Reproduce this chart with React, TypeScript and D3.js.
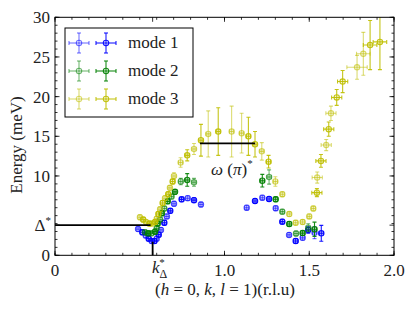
import React from 'react';
import * as d3 from 'd3';

// [k, E, dk, dE, scan]  scan 0 = faint set, 1 = solid set
type Pt = [number, number, number, number, number];

const mode1: Pt[] = [
  [0.49, 3.3, 0.012, 0.3, 0], [0.515, 2.9, 0.012, 0.3, 1], [0.535, 2.5, 0.012, 0.3, 0],
  [0.553, 2.1, 0.012, 0.3, 1], [0.57, 1.8, 0.012, 0.3, 0], [0.587, 1.8, 0.012, 0.3, 1],
  [0.6, 2.1, 0.012, 0.3, 0], [0.612, 2.6, 0.012, 0.3, 1], [0.625, 3.2, 0.012, 0.3, 0],
  [0.645, 4.1, 0.012, 0.3, 1], [0.66, 4.9, 0.012, 0.3, 0], [0.68, 5.6, 0.012, 0.3, 1],
  [0.702, 6.5, 0.012, 0.3, 0], [0.747, 7.05, 0.012, 0.3, 1], [0.783, 7.2, 0.012, 0.3, 0],
  [0.82, 6.95, 0.012, 0.3, 1], [0.861, 6.4, 0.012, 0.3, 0],
  [1.131, 6.0, 0.012, 0.3, 0], [1.18, 6.85, 0.012, 0.3, 1], [1.223, 7.26, 0.012, 0.3, 0],
  [1.263, 7.1, 0.012, 0.3, 1], [1.302, 5.93, 0.012, 0.3, 0], [1.341, 4.24, 0.012, 0.3, 1],
  [1.381, 2.57, 0.012, 0.3, 0], [1.42, 1.8, 0.012, 0.3, 1], [1.461, 2.2, 0.012, 0.3, 0],
  [1.494, 3.2, 0.012, 0.4, 1], [1.531, 2.85, 0.012, 0.75, 0], [1.571, 2.77, 0.012, 1.0, 1],
];

const mode2: Pt[] = [
  [0.531, 2.9, 0.012, 0.3, 0], [0.55, 2.77, 0.012, 0.3, 1], [0.57, 2.77, 0.012, 0.3, 0],
  [0.59, 2.98, 0.012, 0.3, 1], [0.6, 3.4, 0.012, 0.3, 0], [0.606, 4.0, 0.012, 0.3, 1],
  [0.62, 4.5, 0.012, 0.3, 0], [0.63, 5.3, 0.012, 0.3, 1], [0.645, 5.9, 0.012, 0.3, 0],
  [0.665, 6.8, 0.012, 0.3, 1], [0.688, 7.4, 0.012, 0.3, 0], [0.708, 8.0, 0.012, 0.3, 1],
  [0.742, 9.3, 0.012, 0.4, 0], [0.78, 9.5, 0.012, 0.8, 1], [0.82, 9.2, 0.012, 0.5, 0],
  [1.223, 9.4, 0.012, 0.8, 1], [1.263, 9.87, 0.012, 0.9, 0], [1.302, 7.06, 0.012, 0.3, 1],
  [1.341, 5.5, 0.012, 0.3, 0], [1.382, 3.95, 0.012, 0.3, 1], [1.422, 2.75, 0.012, 0.3, 0],
  [1.461, 2.8, 0.012, 0.3, 1], [1.494, 3.48, 0.012, 0.5, 0], [1.531, 3.28, 0.012, 0.9, 1],
];

const mode3: Pt[] = [
  [0.501, 4.8, 0.012, 0.3, 0], [0.52, 4.5, 0.012, 0.3, 1], [0.537, 4.2, 0.012, 0.3, 0],
  [0.557, 4.0, 0.012, 0.3, 1], [0.575, 4.0, 0.012, 0.3, 0], [0.59, 4.2, 0.012, 0.3, 1],
  [0.6, 4.6, 0.012, 0.3, 0], [0.61, 5.2, 0.012, 0.3, 1], [0.62, 5.8, 0.012, 0.3, 0],
  [0.635, 6.6, 0.012, 0.3, 1], [0.649, 7.2, 0.012, 0.3, 0], [0.668, 7.7, 0.012, 0.3, 1],
  [0.678, 8.5, 0.012, 0.3, 0], [0.694, 9.3, 0.012, 0.3, 1], [0.702, 10.0, 0.012, 0.4, 0],
  [0.741, 11.7, 0.012, 0.6, 0], [0.78, 12.6, 0.012, 0.7, 1], [0.82, 13.4, 0.012, 0.7, 0],
  [0.861, 14.5, 0.012, 2.0, 1], [0.904, 15.3, 0.012, 2.9, 0], [0.963, 15.6, 0.012, 3.0, 1],
  [1.042, 15.6, 0.012, 3.2, 0], [1.101, 15.4, 0.012, 2.5, 0], [1.141, 15.0, 0.012, 2.4, 1],
  [1.18, 14.0, 0.012, 1.6, 1], [1.22, 13.1, 0.012, 1.1, 0], [1.26, 11.8, 0.012, 0.8, 1],
  [1.3, 9.3, 0.012, 0.6, 0], [1.341, 7.7, 0.012, 0.3, 0], [1.382, 5.2, 0.012, 0.3, 0],
  [1.42, 4.1, 0.012, 0.3, 0], [1.461, 4.2, 0.012, 0.3, 0], [1.5, 4.9, 0.012, 0.3, 0],
  [1.524, 5.9, 0.012, 0.3, 0], [1.545, 7.9, 0.03, 0.5, 1], [1.547, 9.8, 0.03, 0.7, 0],
  [1.569, 11.9, 0.03, 0.8, 1], [1.6, 13.9, 0.03, 0.7, 0], [1.615, 15.9, 0.03, 0.9, 1],
  [1.628, 17.9, 0.03, 0.9, 0], [1.662, 19.9, 0.03, 1.0, 1], [1.697, 21.9, 0.03, 1.4, 1],
  [1.782, 23.7, 0.06, 1.5, 0], [1.819, 25.4, 0.04, 2.7, 0], [1.859, 26.5, 0.04, 3.1, 1],
  [1.917, 26.9, 0.04, 3.5, 1],
];

const modeNames = ['mode 1', 'mode 2', 'mode 3'];
const modeColors = ['#0000ff', '#008000', '#bfbf00'];

const kDelta = 0.576;
const Delta = 3.8;
const omegaPi = 14.1;
const omegaRange = [0.855, 1.18];

const yTicks = [0, 10, 15, 20, 25, 30];
const xTicks = [0, 1.0, 1.5, 2.0];

const W = 415;
const H = 312;
const FONT = "'Liberation Serif', 'DejaVu Serif', 'Times New Roman', serif";

const x = d3.scaleLinear().domain([0, 2]).range([55, 394]);
const y = d3.scaleLinear().domain([0, 30]).range([255.3, 17.3]);

const CAP = 2;

const ErrPoint: React.FC<{ p: Pt; color: string }> = ({ p, color }) => {
  const [k, e, dk, de, s] = p;
  const cx = x(k), cy = y(e);
  const y0 = y(e - de), y1 = y(e + de);
  const x0 = x(k - dk), x1 = x(k + dk);
  const op = s === 0 ? 0.55 : 0.9;
  return (
    <g stroke={color} strokeOpacity={op} fill="none" strokeWidth={1.1}>
      <line x1={cx} x2={cx} y1={y0} y2={y1} />
      <line x1={cx - CAP} x2={cx + CAP} y1={y0} y2={y0} />
      <line x1={cx - CAP} x2={cx + CAP} y1={y1} y2={y1} />
      <line x1={x0} x2={x1} y1={cy} y2={cy} />
      <line x1={x0} x2={x0} y1={cy - CAP} y2={cy + CAP} />
      <line x1={x1} x2={x1} y1={cy - CAP} y2={cy + CAP} />
      <circle cx={cx} cy={cy} r={2.7} fill={color} fillOpacity={0.15} />
    </g>
  );
};

const LegendMark: React.FC<{ cx: number; cy: number; color: string; op: number }> = ({ cx, cy, color, op }) => (
  <g stroke={color} strokeOpacity={op} fill="none" strokeWidth={1.1}>
    <line x1={cx} x2={cx} y1={cy - 10} y2={cy + 10} />
    <line x1={cx - CAP} x2={cx + CAP} y1={cy - 10} y2={cy - 10} />
    <line x1={cx - CAP} x2={cx + CAP} y1={cy + 10} y2={cy + 10} />
    <line x1={cx - 10} x2={cx + 10} y1={cy} y2={cy} />
    <line x1={cx - 10} x2={cx - 10} y1={cy - CAP} y2={cy + CAP} />
    <line x1={cx + 10} x2={cx + 10} y1={cy - CAP} y2={cy + CAP} />
    <circle cx={cx} cy={cy} r={2.7} />
  </g>
);

export default function App() {
  const [xl, xr] = x.range();
  const [yb, yt] = y.range();
  const xMinor = d3.range(0, 2.0001, 0.1);
  const yMinor = d3.range(0, 30.001, 1);
  const xMajor = [...xTicks, kDelta];
  const yMajor = [...yTicks, Delta];
  const modes = [mode1, mode2, mode3];
  const txt = { fontFamily: FONT };

  return (
    <svg width={W} height={H} style={{ position: 'absolute', left: 0, top: 0, background: '#fff', fontFamily: FONT }}>
      <defs>
        <clipPath id="plot">
          <rect x={xl} y={yt} width={xr - xl} height={yb - yt} />
        </clipPath>
      </defs>

      <g clipPath="url(#plot)">
        {modes.map((m, i) => m.map((p, j) => <ErrPoint key={`${i}-${j}`} p={p} color={modeColors[i]} />))}
        <line x1={x(0)} x2={x(kDelta) - 2} y1={y(Delta)} y2={y(Delta)} stroke="#000" strokeWidth={1.8} />
        <line x1={x(kDelta)} x2={x(kDelta)} y1={y(0)} y2={y(1.7)} stroke="#000" strokeWidth={1.8} />
        <line x1={x(omegaRange[0])} x2={x(omegaRange[1])} y1={y(omegaPi)} y2={y(omegaPi)} stroke="#000" strokeWidth={1.8} />
      </g>

      {/* ticks, all pointing inward, mirrored on top and right */}
      <g stroke="#000" strokeWidth={0.8}>
        {xMinor.map((t, i) => (
          <g key={`xm${i}`}>
            <line x1={x(t)} x2={x(t)} y1={yb} y2={yb - 2.5} />
            <line x1={x(t)} x2={x(t)} y1={yt} y2={yt + 2.5} />
          </g>
        ))}
        {xMajor.map((t, i) => (
          <g key={`xM${i}`}>
            <line x1={x(t)} x2={x(t)} y1={yb} y2={yb - 4.5} />
            <line x1={x(t)} x2={x(t)} y1={yt} y2={yt + 4.5} />
          </g>
        ))}
        {yMinor.map((t, i) => (
          <g key={`ym${i}`}>
            <line x1={xl} x2={xl + 2.5} y1={y(t)} y2={y(t)} />
            <line x1={xr} x2={xr - 2.5} y1={y(t)} y2={y(t)} />
          </g>
        ))}
        {yMajor.map((t, i) => (
          <g key={`yM${i}`}>
            <line x1={xl} x2={xl + 4.5} y1={y(t)} y2={y(t)} />
            <line x1={xr} x2={xr - 4.5} y1={y(t)} y2={y(t)} />
          </g>
        ))}
      </g>

      <rect x={xl} y={yt} width={xr - xl} height={yb - yt} fill="none" stroke="#000" strokeWidth={1} />

      {/* tick labels */}
      <g fontSize={17} fill="#222" style={txt}>
        {xTicks.map((t) => (
          <text key={`xl${t}`} x={x(t)} y={276} textAnchor="middle">
            {t === 0 ? '0' : d3.format('.1f')(t)}
          </text>
        ))}
        {yTicks.map((t) => (
          <text key={`yl${t}`} x={50} y={y(t) + 6} textAnchor="end">{t}</text>
        ))}
        <text x={51} y={y(Delta) + 6} textAnchor="end">Δ<tspan fontSize={11} dy={-7}>*</tspan></text>
        <text x={152} y={273} fontStyle="italic">
          k<tspan fontStyle="normal" fontSize={12} dy={5}>Δ</tspan>
          <tspan fontStyle="normal" fontSize={11} dx={-8} dy={-12}>*</tspan>
        </text>
      </g>

      {/* annotation */}
      <text x={211} y={175} fontSize={17} fill="#222" style={txt}>
        <tspan fontStyle="italic">ω</tspan> (<tspan fontStyle="italic">π</tspan>)<tspan fontSize={11} dy={-8}>*</tspan>
      </text>

      {/* axis labels */}
      <text x={225} y={295} fontSize={17} textAnchor="middle" fill="#222" style={txt}>
        (<tspan fontStyle="italic">h</tspan> = 0, <tspan fontStyle="italic">k</tspan>, <tspan fontStyle="italic">l</tspan> = 1)(r.l.u)
      </text>
      <text transform="translate(22,145) rotate(-90)" fontSize={17} textAnchor="middle" fill="#222" style={txt}>
        Energy (meV)
      </text>

      {/* legend */}
      <rect x={65} y={28} width={128} height={89} fill="#fff" stroke="#000" strokeWidth={1} />
      {modeNames.map((name, i) => {
        const cy = 43 + i * 28;
        return (
          <g key={name}>
            <LegendMark cx={79} cy={cy} color={modeColors[i]} op={0.55} />
            <LegendMark cx={106} cy={cy} color={modeColors[i]} op={0.9} />
            <text x={128} y={cy + 5} fontSize={17} fill="#222" style={txt}>{name}</text>
          </g>
        );
      })}
    </svg>
  );
}
